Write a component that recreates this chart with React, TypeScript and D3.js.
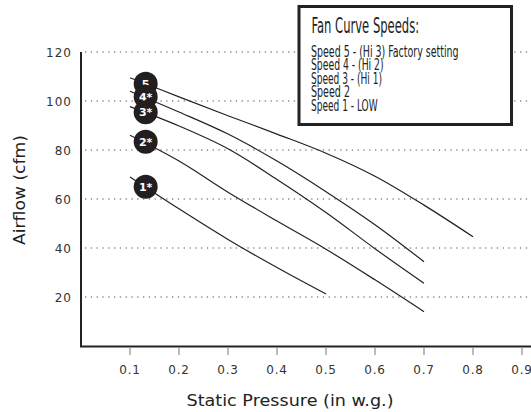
import React from "react";
import * as d3 from "d3";

const speeds = ["Speed 5", "Speed 4", "Speed 3", "Speed 2", "Speed 1"];
const pressure5 = [0.1, 0.2, 0.3, 0.4, 0.5, 0.6, 0.7, 0.8];
const airflow5 = [109.5, 101.7, 94, 86.5, 78.7, 69.3, 57.5, 44.6];
const pressure4 = [0.1, 0.2, 0.3, 0.4, 0.5, 0.6, 0.7];
const airflow4 = [104, 95.5, 86.5, 75.5, 63, 49.5, 34.4];
const pressure3 = [0.1, 0.2, 0.3, 0.4, 0.5, 0.6, 0.7];
const airflow3 = [97.7, 89.8, 80.5, 68, 54.5, 39.7, 25.6];
const pressure2 = [0.1, 0.2, 0.3, 0.4, 0.5, 0.6, 0.7];
const airflow2 = [86, 75.5, 62.8, 51, 39.5, 27, 14];
const pressure1 = [0.1, 0.2, 0.3, 0.4, 0.5];
const airflow1 = [69, 56, 43.5, 32, 21.2];
const markerLabels = ["5", "4*", "3*", "2*", "1*"];
const markerPressure = [0.132, 0.132, 0.132, 0.132, 0.132];
const markerAirflow = [107, 101.7, 95.4, 83.4, 65];
const xTicks = [0.1, 0.2, 0.3, 0.4, 0.5, 0.6, 0.7, 0.8, 0.9];
const xTickLabels = ["0.1", "0.2", "0.3", "0.4", "0.5", "0.6", "0.7", "0.8", "0.9"];
const yTicks = [20, 40, 60, 80, 100, 120];
const legendTitle = "Fan Curve Speeds:";
const legendItems = [
  "Speed 5 - (Hi 3) Factory setting",
  "Speed 4 - (Hi 2)",
  "Speed 3 - (Hi 1)",
  "Speed 2",
  "Speed 1 - LOW",
];
const xTitle = "Static Pressure (in w.g.)";
const yTitle = "Airflow (cfm)";

const series = [
  { name: speeds[0], xs: pressure5, ys: airflow5 },
  { name: speeds[1], xs: pressure4, ys: airflow4 },
  { name: speeds[2], xs: pressure3, ys: airflow3 },
  { name: speeds[3], xs: pressure2, ys: airflow2 },
  { name: speeds[4], xs: pressure1, ys: airflow1 },
];

const W = 531;
const H = 412;
const x = d3.scaleLinear().domain([0, 1]).range([81, 571]);
const y = d3.scaleLinear().domain([0, 120]).range([346, 52]);

const line = d3
  .line<[number, number]>()
  .x((d) => x(d[0]))
  .y((d) => y(d[1]))
  .curve(d3.curveCatmullRom.alpha(0.5));

const legendWidths = [147.6, 72.6, 71, 39, 66.6];
const condensed = "'Liberation Sans Narrow', 'Arial Narrow', 'DejaVu Sans Condensed', sans-serif";
const axisFont = "'DejaVu Sans', sans-serif";

export default function App() {
  return (
    <svg
      width={W}
      height={H}
      style={{ position: "absolute", left: 0, top: 0, display: "block", background: "#fff" }}
    >
      {yTicks.map((t) => (
        <line
          key={"g" + t}
          x1={85}
          x2={W}
          y1={y(t)}
          y2={y(t)}
          stroke="#8a8a8a"
          strokeWidth={1.3}
          strokeDasharray="1.3 4.5"
        />
      ))}
      {yTicks.map((t) => (
        <text
          key={"yl" + t}
          x={72}
          y={y(t) + 4.5}
          textAnchor="end"
          fontFamily={axisFont}
          fontSize={12}
          letterSpacing={1}
          fill="#333"
        >
          {t}
        </text>
      ))}
      {xTicks.map((t, i) => (
        <g key={"xt" + t}>
          <line x1={x(t)} x2={x(t)} y1={348} y2={355} stroke="#777" strokeWidth={1} />
          <text
            x={x(t)}
            y={373.5}
            textAnchor="middle"
            fontFamily={axisFont}
            fontSize={12}
            letterSpacing={0.8}
            fill="#333"
          >
            {xTickLabels[i]}
          </text>
        </g>
      ))}
      <line x1={81} x2={81} y1={52} y2={347} stroke="#222" strokeWidth={2} />
      <line x1={80} x2={W} y1={346.5} y2={346.5} stroke="#222" strokeWidth={2} />
      <text
        x={290}
        y={406}
        textAnchor="middle"
        fontFamily={axisFont}
        fontSize={15.5}
        textLength={207}
        lengthAdjust="spacingAndGlyphs"
        fill="#222"
      >
        {xTitle}
      </text>
      <text
        transform="translate(25,190) rotate(-90)"
        textAnchor="middle"
        fontFamily={axisFont}
        fontSize={15}
        textLength={110}
        lengthAdjust="spacingAndGlyphs"
        fill="#222"
      >
        {yTitle}
      </text>
      {series.map((s) => (
        <path
          key={s.name}
          d={line(s.xs.map((v, i) => [v, s.ys[i]] as [number, number])) || ""}
          fill="none"
          stroke="#222"
          strokeWidth={1.2}
        />
      ))}
      {markerLabels.map((lab, i) => (
        <g key={"m" + lab}>
          <circle cx={x(markerPressure[i])} cy={y(markerAirflow[i])} r={12} fill="#231f20" />
          <text
            x={x(markerPressure[i])}
            y={y(markerAirflow[i]) + 4}
            textAnchor="middle"
            fontFamily={axisFont}
            fontWeight="bold"
            fontSize={11}
            fill="#fff"
          >
            {lab}
          </text>
        </g>
      ))}
      <rect x={299} y={6.5} width={212.5} height={118} fill="#fff" stroke="#222" strokeWidth={3} />
      <text
        x={311.5}
        y={33.3}
        fontFamily={condensed}
        fontSize={21}
        textLength={107.6}
        lengthAdjust="spacingAndGlyphs"
        fill="#222"
      >
        {legendTitle}
      </text>
      {legendItems.map((it, i) => (
        <text
          key={it}
          x={311}
          y={56.5 + i * 13.6}
          fontFamily={condensed}
          fontSize={15.5}
          textLength={legendWidths[i]}
          lengthAdjust="spacingAndGlyphs"
          fill="#222"
        >
          {it}
        </text>
      ))}
    </svg>
  );
}
